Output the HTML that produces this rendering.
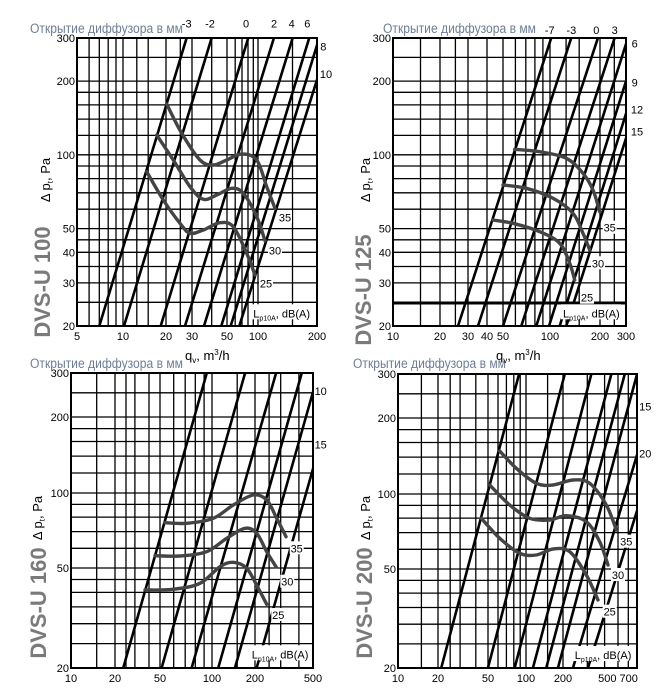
<!DOCTYPE html>
<html><head><meta charset="utf-8">
<style>
html,body{margin:0;padding:0;background:#fff;}
svg{display:block;font-family:"Liberation Sans","DejaVu Sans",sans-serif;}
</style></head>
<body>
<svg id="s" width="666" height="692" viewBox="0 0 666 692" xmlns="http://www.w3.org/2000/svg"></svg>
<script>
const S=document.getElementById('s');let out='';
function lg(v){return Math.log10(v);}
function mapper(anch){return function(v){for(let i=0;i<anch.length-1;i++){const a=anch[i],b=anch[i+1];if(v<=b[0]+1e-9||i==anch.length-2){return a[1]+(lg(v)-lg(a[0]))/(lg(b[0])-lg(a[0]))*(b[1]-a[1]);}}};}
function smooth(p){let d='M'+p[0][0]+','+p[0][1];for(let i=0;i<p.length-1;i++){const p0=p[i-1]||p[i],p1=p[i],p2=p[i+1],p3=p[i+2]||p2;const c1=[p1[0]+(p2[0]-p0[0])/6,p1[1]+(p2[1]-p0[1])/6],c2=[p2[0]-(p3[0]-p1[0])/6,p2[1]-(p3[1]-p1[1])/6];d+=' C'+c1+' '+c2+' '+p2;}return d;}
function t(x,y,s,o){o=o||{};out+=`<text x="${x}" y="${y}" font-size="${o.fs||12}" fill="${o.c||'#000'}" text-anchor="${o.a||'start'}" ${o.tl?'textLength="'+o.tl+'" lengthAdjust="spacingAndGlyphs"':''} ${o.fw?'font-weight="'+o.fw+'"':''} ${o.tr?'transform="'+o.tr+'"':''}>${s}</text>`;}
const YG=[20,25,30,35,40,45,50,60,70,80,90,100,120,140,160,180,200,250,300];
function panel(P){
 const X=mapper(P.xa),Y=mapper(P.ya);const L=P.box[0],R=P.box[1],T=P.box[2],B=P.box[3];
 const z=(p)=>[+(P.ox+p[0]/3).toFixed(1),+(P.oy+p[1]/3).toFixed(1)];
 out+=`<g stroke="#000" stroke-width="1.3">`;
 P.xg.forEach(v=>{const x=X(v).toFixed(1);out+=`<line x1="${x}" y1="${T}" x2="${x}" y2="${B}"/>`;});
 YG.forEach(v=>{const y=Y(v).toFixed(1);out+=`<line x1="${L}" y1="${y}" x2="${R}" y2="${y}"/>`;});
 out+=`</g><rect x="${L}" y="${T}" width="${R-L}" height="${B-T}" fill="none" stroke="#000" stroke-width="2"/>`;
 if(P.hl){out+=`<line x1="${L}" y1="${P.hl}" x2="${R}" y2="${P.hl}" stroke="#000" stroke-width="3"/>`;}
 out+=`<clipPath id="c${P.id}"><rect x="${L}" y="${T}" width="${R-L}" height="${B-T}"/></clipPath><g clip-path="url(#c${P.id})" stroke="#000" stroke-width="2.6" fill="none">`;
 P.d.forEach(s=>{const a=z([s[0],s[1]]),b=z([s[2],s[3]]);out+=`<line x1="${a[0]}" y1="${a[1]}" x2="${b[0]}" y2="${b[1]}"/>`;});
 out+=`</g><g stroke="#444" stroke-width="3.4" fill="none" stroke-linecap="round">`;
 P.c.forEach(c=>{out+=`<path d="${smooth(c.map(z))}"/>`;});
 out+=`</g>`;
 P.lab.forEach(l=>{const p=z([l[0],l[1]]);out+=`<rect x="${p[0]-7}" y="${p[1]-7}" width="14" height="13" fill="#fff"/>`;t(p[0],p[1]+4,l[2],{a:'middle',fs:11});});
 const lp=z(P.lp);out+=`<rect x="${lp[0]-2}" y="${lp[1]-9}" width="60" height="15" fill="#fff"/>`;
 out+=`<text x="${lp[0]}" y="${lp[1]+4}" font-size="11">L<tspan font-size="7" dy="3">p10A</tspan><tspan dy="-3">, dB(A)</tspan></text>`;
 P.xl.forEach(v=>t(X(v),B+14,v,{a:'middle',fs:11}));
 P.yl.forEach(v=>t(L-2,Y(v)+4,v,{a:'end',fs:11}));
 P.rl.forEach(r=>{const p=z([r[0],r[1]]);t(p[0],p[1]+4,r[2],{a:'middle',fs:11});});
 P.tl.forEach(r=>{const p=z([r[0],r[1]]);t(p[0],p[1]+4,r[2],{a:'middle',fs:11});});
 t(P.tx,P.ty,'Открытие диффузора в мм',{fs:13.5,c:'#6b7d9a',tl:153});
 t(0,0,'Δ p<tspan font-size="8" dy="3">t</tspan><tspan dy="-3">, Pa</tspan>',{fs:13,a:'middle',tr:`translate(${P.dpx},${P.dpy}) rotate(-90)`});
 t(0,0,P.name,{fs:22,fw:'bold',c:'#7a7a7a',a:'middle',tr:`translate(${P.nx},${P.ny}) rotate(-90)`});
}
const ya1=[[20,326],[300,38]];
panel({id:1,ox:0,oy:0,box:[77,317,38,326],
 xa:[[5,77],[10,123],[20,166],[30,192],[50,227],[100,258],[200,317]],ya:ya1,
 xg:[5,6,7,8,9,10,12.5,15,20,25,30,40,50,60,70,80,90,100,150,200],
 d:[[298,978,560,113],[372,978,635,113],[482,978,745,113],[555,978,822,113],[612,978,878,113],[664,978,928,113],[692,978,958,113],[718,978,991,113]],
 c:[[[500,312],[545,400],[600,480],[640,495],[680,480],[725,462],[770,480],[800,560],[825,625]],
    [[470,405],[520,480],[570,560],[610,598],[650,585],[695,565],[730,580],[770,650],[795,722]],
    [[440,515],[490,600],[540,670],[570,700],[610,690],[660,668],[700,680],[740,760],[765,825]]],
 lab:[[855,652,'35'],[825,752,'30'],[798,850,'25']],lp:[760,940],
 xl:[5,10,20,30,50,100,200],yl:[20,30,40,50,100,200,300],
 rl:[[970,140,'8'],[978,222,'10']],tl:[[560,70,'-3'],[630,70,'-2'],[738,70,'0'],[822,70,'2'],[875,70,'4'],[922,70,'6']],
 tx:30,ty:33,dpx:50,dpy:180,nx:50,ny:282,name:'DVS-U 100'});
panel({id:2,ox:333,oy:0,box:[393,626,38,326],hl:303,
 xa:[[10,393],[20,440],[30,468],[40,487],[50,503],[100,550],[200,600],[300,626]],ya:ya1,
 xg:[10,15,20,25,30,40,50,60,70,80,90,100,125,150,200,250,300],
 d:[[375,978,655,113],[435,978,715,113],[510,978,795,113],[565,978,845,113],[610,978,885,113],[648,978,920,113],[680,978,950,113],[700,978,975,113]],
 c:[[[545,448],[620,455],[700,475],[750,520],[780,570],[800,635]],
    [[510,555],[580,565],[660,595],[720,640],[750,700],[770,750]],
    [[480,660],[540,670],[620,695],[680,730],[710,790],[725,840]]],
 lab:[[830,683,'35'],[795,790,'30'],[762,893,'25']],lp:[690,940],
 xl:[10,20,30,40,50,100,200,300],yl:[20,30,40,50,100,200,300],
 rl:[[905,130,'6'],[905,248,'9'],[912,328,'12'],[912,395,'15']],tl:[[650,90,'-7'],[715,90,'-3'],[790,90,'0'],[845,90,'3']],
 tx:383,ty:33,dpx:370,dpy:180,nx:371,ny:290,name:'DVS-U 125'});
panel({id:3,ox:0,oy:345,box:[71,313,373,668],
 xa:[[10,71],[20,115],[50,160],[100,212],[200,255],[500,313]],ya:[[20,668],[50,568],[100,493],[200,417],[300,373]],
 xg:[10,15,20,25,30,40,50,60,70,80,90,100,150,200,250,300,400,500],
 d:[[370,968,620,85],[485,968,735,85],[575,968,828,85],[655,968,905,85],[705,968,955,85],[770,968,1020,85]],
 c:[[[495,533],[560,535],[640,520],[700,480],[760,450],[800,465],[830,520],[858,575]],
    [[465,632],[540,633],[620,620],[680,580],[735,550],[770,565],[800,620],[828,665]],
    [[435,735],[520,733],[600,715],[660,665],[700,652],[740,670],[775,730],[800,778]]],
 lab:[[890,610,'35'],[862,710,'30'],[835,810,'25']],lp:[755,928],
 xl:[10,20,50,100,200,500],yl:[20,50,100,200,300],
 rl:[[962,138,'10'],[962,298,'15']],tl:[],
 tx:30,ty:368,dpx:42,dpy:518,nx:46,ny:603,name:'DVS-U 160'});
panel({id:4,ox:333,oy:345,box:[398,637,374,668],
 xa:[[10,398],[20,438],[50,488],[100,526],[200,563],[500,618],[700,637]],ya:[[20,668],[50,569],[100,494],[200,418],[300,374]],
 xg:[10,15,20,25,30,40,50,60,70,80,90,100,150,200,300,400,500,600,700],
 d:[[325,968,558,88],[465,968,695,88],[545,968,775,88],[600,968,835,88],[640,968,875,88],[675,968,912,88],[720,968,985,88],[765,968,1040,88]],
 c:[[[500,318],[550,370],[610,415],[660,420],[720,405],[770,415],[820,480],[850,555]],
    [[470,420],[530,480],[590,520],[650,525],[700,512],[760,530],[800,590],[825,660]],
    [[445,520],[500,580],[560,625],[610,630],[660,612],[710,620],[760,690],[795,765]]],
 lab:[[880,590,'35'],[855,690,'30'],[830,800,'25']],lp:[725,930],
 xl:[10,20,50,100,200],yl:[20,50,100,200,300],
 rl:[[937,185,'15'],[937,325,'20']],tl:[],
 tx:353,ty:368,dpx:370,dpy:518,nx:372,ny:603,name:'DVS-U 200'});
t(618,682,'500 700',{a:'middle',fs:11});
t(185,360,'q<tspan font-size="8" dy="3">v</tspan><tspan dy="-3">, m</tspan><tspan font-size="8" dy="-5">3</tspan><tspan dy="5">/h</tspan>',{fs:13});
t(496,360,'q<tspan font-size="8" dy="3">v</tspan><tspan dy="-3">, m</tspan><tspan font-size="8" dy="-5">3</tspan><tspan dy="5">/h</tspan>',{fs:13});
S.innerHTML=out;
</script>
</body></html>
